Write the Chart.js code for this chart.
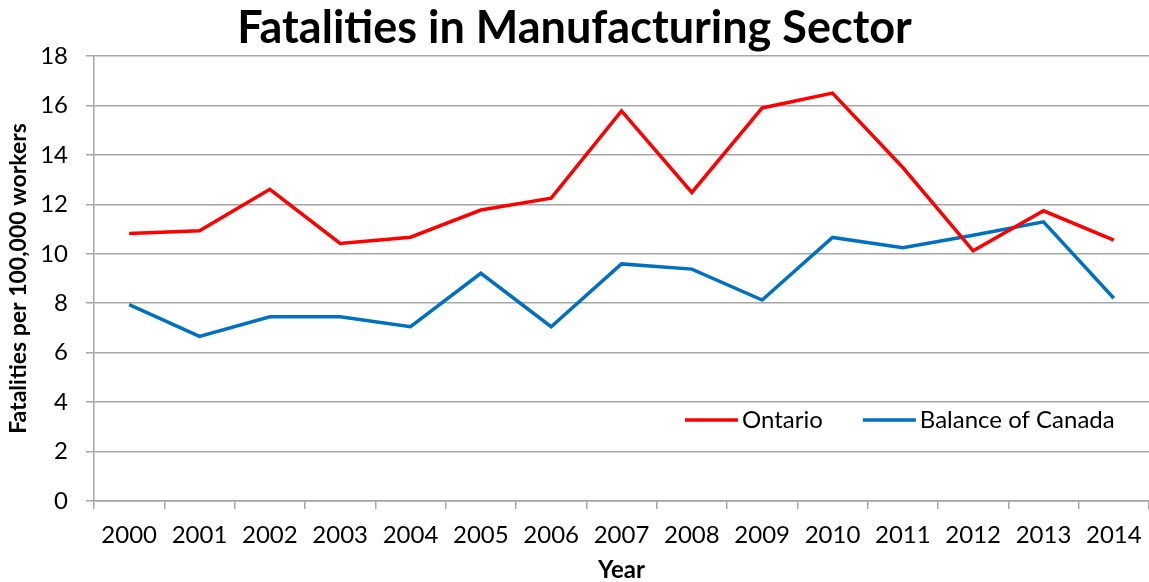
<!DOCTYPE html>
<html>
<head>
<meta charset="utf-8">
<script src="https://cdn.jsdelivr.net/npm/chart.js@4/dist/chart.umd.min.js"></script>
<style>
  html, body { margin: 0; padding: 0; background: #fff; }
  #wrap { width: 1149px; height: 582px; }
</style>
</head>
<body>
<div id="wrap"><canvas id="chart"></canvas></div>
<script>
const years = ['2000', '2001', '2002', '2003', '2004', '2005', '2006', '2007',
  '2008', '2009', '2010', '2011', '2012', '2013', '2014']
const ontario = [10.82, 10.93, 12.61, 10.42, 10.67, 11.77, 12.25, 15.78,
  12.48, 15.9, 16.5, 13.49, 10.12, 11.74, 10.55]
const balanceOfCanada = [7.94, 6.66, 7.45, 7.45, 7.05, 9.21, 7.05, 9.59,
  9.38, 8.13, 10.66, 10.24, 10.75, 11.29, 8.2]

const FONT = 'Lato, "Open Sans", sans-serif'
const gridColor = '#a6a6a6'

// legend sits inside the plot, bottom right
const insideLegend = {
  id: 'insideLegend',
  afterDraw(chart) {
    const { ctx, chartArea } = chart
    const y = 420
    let x = chartArea.left + 591
    ctx.save()
    ctx.font = '24px ' + FONT
    ctx.textBaseline = 'middle'
    chart.data.datasets.forEach((ds) => {
      ctx.strokeStyle = ds.borderColor
      ctx.lineWidth = 3.5
      ctx.beginPath()
      ctx.moveTo(x, y)
      ctx.lineTo(x + 53, y)
      ctx.stroke()
      ctx.fillStyle = '#000'
      ctx.fillText(ds.label, x + 57, y)
      x += 57 + ctx.measureText(ds.label).width + 40
    })
    ctx.restore()
  },
}

new Chart(document.getElementById('chart'), {
  type: 'line',
  data: {
    labels: years,
    datasets: [
      {
        label: 'Ontario',
        data: ontario,
        borderColor: '#ff0000',
        borderWidth: 3.5,
        pointRadius: 0,
        tension: 0,
      },
      {
        label: 'Balance of Canada',
        data: balanceOfCanada,
        borderColor: '#0070c0',
        borderWidth: 3.5,
        pointRadius: 0,
        tension: 0,
      },
    ],
  },
  options: {
    responsive: true,
    maintainAspectRatio: false,
    animation: false,
    layout: { padding: 0 },
    plugins: {
      legend: { display: false },
      tooltip: { enabled: false },
      title: {
        display: true,
        text: 'Fatalities in Manufacturing Sector',
        color: '#000',
        font: { family: FONT, size: 45, weight: 'bold', lineHeight: 1.2 },
        padding: { top: 1, bottom: 1 },
      },
    },
    scales: {
      x: {
        offset: true,
        afterFit: (scale) => {
          scale.height = 81
          scale.paddingLeft = 0
          scale.paddingRight = 0
        },
        grid: {
          offset: true,
          drawOnChartArea: false,
          color: gridColor,
          lineWidth: 1.5,
          tickLength: 8,
        },
        border: { color: gridColor, width: 1.5 },
        ticks: { color: '#000', font: { family: FONT, size: 24 }, padding: 12, maxRotation: 0, autoSkip: false },
        title: { display: true, text: 'Year', color: '#000', font: { family: FONT, size: 24, weight: 'bold', lineHeight: 1 }, padding: { top: 0, bottom: 0 } },
      },
      y: {
        min: 0,
        max: 18,
        afterFit: (scale) => { scale.width = 94 },
        ticks: { stepSize: 2, color: '#000', font: { family: FONT, size: 24 }, padding: 18 },
        grid: { color: gridColor, lineWidth: 1.5, tickLength: 8 },
        border: { color: gridColor, width: 1.5 },
        title: { display: true, text: 'Fatalities per 100,000 workers', color: '#000', font: { family: FONT, size: 23, weight: 'bold', lineHeight: 1.2 }, padding: { top: 5, bottom: 0 } },
      },
    },
  },
  plugins: [insideLegend],
})
</script>
</body>
</html>
